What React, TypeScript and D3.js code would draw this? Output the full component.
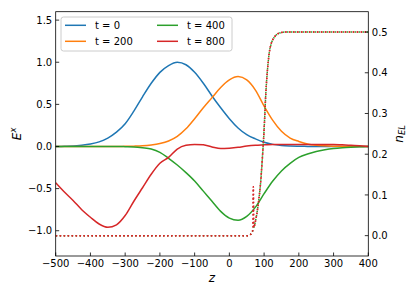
import React from 'react';
import * as d3 from 'd3';

const width = 415;
const height = 297;
const plot = { left: 55.7, right: 368.3, top: 11.7, bottom: 256 };

// z positions of the field samples
const zValues = [
  -500, -475, -450, -425, -400, -375, -350, -325, -300, -275,
  -250, -225, -200, -175, -150, -125, -100, -75, -50, -25,
  0, 25, 50, 75, 100, 125, 150, 175, 200, 225,
  250, 275, 300, 325, 350, 375, 400,
];

// E^x for each time
const fieldT0 = [
  0, 0.002, 0.005, 0.015, 0.03, 0.055, 0.10, 0.17, 0.27, 0.42,
  0.59, 0.75, 0.88, 0.96, 1.00, 0.97, 0.88, 0.75, 0.60, 0.46,
  0.33, 0.22, 0.14, 0.09, 0.05, 0.025, 0.012, 0.006, 0.003, 0.001,
  0, 0, 0, 0, 0, 0, 0,
];
const fieldT200 = [
  0, 0, 0, 0, 0, 0, 0, 0, 0.002, 0.004,
  0.008, 0.018, 0.035, 0.065, 0.12, 0.21, 0.33, 0.46, 0.58, 0.70,
  0.79, 0.83, 0.79, 0.67, 0.48, 0.31, 0.18, 0.10, 0.06, 0.03,
  0.015, 0.008, 0.004, 0.002, 0, 0, 0,
];
const fieldT400 = [
  0, 0, 0, 0, 0, 0, 0, 0, -0.002, -0.005,
  -0.015, -0.03, -0.07, -0.14, -0.22, -0.31, -0.41, -0.53, -0.65, -0.77,
  -0.85, -0.875, -0.83, -0.72, -0.56, -0.41, -0.29, -0.20, -0.13, -0.09,
  -0.06, -0.04, -0.025, -0.015, -0.008, -0.003, 0,
];
const fieldT800 = [
  -0.43, -0.54, -0.64, -0.75, -0.84, -0.92, -0.96, -0.93, -0.82, -0.65,
  -0.49, -0.33, -0.20, -0.13, -0.03, 0.015, 0.025, 0.02, -0.005, -0.025,
  -0.02, -0.01, 0.005, 0.015, 0.02, 0.025, 0.025, 0.025, 0.025, 0.025,
  0.025, 0.025, 0.025, 0.02, 0.015, 0.008, 0,
];

// electron density n_EL (right axis)
const densityZ = [-500, 55, 65, 75, 85, 90, 95, 100, 105, 110, 115, 120, 130, 140, 150, 160, 400];
const densityEarly = [0, 0, 0.008, 0.035, 0.09, 0.13, 0.19, 0.26, 0.35, 0.41, 0.45, 0.47, 0.488, 0.496, 0.499, 0.5, 0.5];
const densityZ800 = [-500, 55, 65, 68, 69, 70, 75, 85, 90, 95, 100, 105, 110, 115, 120, 130, 140, 150, 160, 400];
const densityT800 = [0, 0, 0.008, 0.016, 0.12, 0.02, 0.035, 0.09, 0.13, 0.19, 0.26, 0.35, 0.41, 0.45, 0.47, 0.488, 0.496, 0.499, 0.5, 0.5];

const seriesLabels = ['t = 0', 't = 200', 't = 400', 't = 800'];
const colors = ['#1f77b4', '#ff7f0e', '#2ca02c', '#d62728'];

const xTicks = [-500, -400, -300, -200, -100, 0, 100, 200, 300, 400];
const leftTicks = [-1.0, -0.5, 0.0, 0.5, 1.0, 1.5];
const rightTicks = [0.0, 0.1, 0.2, 0.3, 0.4, 0.5];

const font = '"DejaVu Sans", sans-serif';
const minus = (s: string) => s.replace('-', '\u2212');

export default function App() {
  const xScale = d3.scaleLinear().domain([-500, 400]).range([plot.left, plot.right]);
  const yLeft = d3.scaleLinear().domain([-1.3, 1.6]).range([plot.bottom, plot.top]);
  const yRight = d3.scaleLinear().domain([-0.05, 0.55]).range([plot.bottom, plot.top]);

  const fieldLine = d3.line<number>()
    .x((_, i) => xScale(zValues[i]))
    .y(d => yLeft(d))
    .curve(d3.curveMonotoneX);

  const densLine = (zs: number[]) => d3.line<number>()
    .x((_, i) => xScale(zs[i]))
    .y(d => yRight(d))
    .curve(d3.curveMonotoneX);

  const fields = [fieldT0, fieldT200, fieldT400, fieldT800];
  // t=0 and t=200 densities sit exactly under t=400, so only the visible ones are drawn
  const densities = [
    { z: densityZ, v: densityEarly, c: colors[2] },
    { z: densityZ800, v: densityT800, c: colors[3] },
    { z: densityZ800, v: densityT800, c: colors[3] },
  ];

  const fmt1 = d3.format('.1f');

  // legend placement
  const legend = { x: 61, y: 17, w: 171, h: 34 };
  const legendCols = [65, 157];
  const legendRows = [25.3, 41.3];

  return (
    <svg width={width} height={height} style={{ position: 'absolute', left: 0, top: 0 }} fontFamily={font}>
      <rect width={width} height={height} fill="#fff" />
      <defs>
        <clipPath id="plot-clip">
          <rect x={plot.left} y={plot.top} width={plot.right - plot.left} height={plot.bottom - plot.top} />
        </clipPath>
      </defs>

      {/* E field curves */}
      <g clipPath="url(#plot-clip)">
        {fields.map((f, i) => (
          <path key={i} d={fieldLine(f) || ''} fill="none" stroke={colors[i]} strokeWidth={1.5} />
        ))}
      </g>

      {/* legend */}
      <g>
        <rect x={legend.x} y={legend.y} width={legend.w} height={legend.h} rx={2.5}
          fill="#fff" fillOpacity={0.8} stroke="#cccccc" strokeWidth={1} />
        {seriesLabels.map((lab, i) => {
          const cx = legendCols[Math.floor(i / 2)];
          const cy = legendRows[i % 2];
          return (
            <g key={lab}>
              <line x1={cx} x2={cx + 21} y1={cy} y2={cy} stroke={colors[i]} strokeWidth={1.5} />
              <text x={cx + 30} y={cy + 3.6} fontSize={10}>{lab}</text>
            </g>
          );
        })}
      </g>

      {/* density curves (twin axis, drawn on top) */}
      <g clipPath="url(#plot-clip)">
        {densities.map((d, i) => (
          <path key={i} d={densLine(d.z)(d.v) || ''} fill="none" stroke={d.c}
            strokeWidth={1.5} strokeDasharray="1.5,2.475" />
        ))}
      </g>

      {/* spines */}
      <rect x={plot.left} y={plot.top} width={plot.right - plot.left} height={plot.bottom - plot.top}
        fill="none" stroke="#000" strokeWidth={0.8} />

      {/* bottom axis */}
      {xTicks.map(t => (
        <g key={'x' + t}>
          <line x1={xScale(t)} x2={xScale(t)} y1={plot.bottom} y2={plot.bottom - 3.5} stroke="#000" strokeWidth={0.8} />
          <text x={xScale(t)} y={plot.bottom + 11.3} fontSize={10} textAnchor="middle">{minus(String(t))}</text>
        </g>
      ))}

      {/* left axis */}
      {leftTicks.map(t => (
        <g key={'l' + t}>
          <line x1={plot.left} x2={plot.left + 3.5} y1={yLeft(t)} y2={yLeft(t)} stroke="#000" strokeWidth={0.8} />
          <text x={plot.left - 3.5} y={yLeft(t) + 3.6} fontSize={10} textAnchor="end">{minus(fmt1(t))}</text>
        </g>
      ))}

      {/* right axis */}
      {rightTicks.map(t => (
        <g key={'r' + t}>
          <line x1={plot.right} x2={plot.right - 3.5} y1={yRight(t)} y2={yRight(t)} stroke="#000" strokeWidth={0.8} />
          <text x={plot.right + 3.5} y={yRight(t) + 3.6} fontSize={10}>{fmt1(t)}</text>
        </g>
      ))}

      {/* axis labels */}
      <text transform={`translate(20.5, ${(plot.top + plot.bottom) / 2}) rotate(-90)`} textAnchor="middle"
        fontSize={12} fontStyle="italic">
        E<tspan fontSize={8.5} dy={-5}>x</tspan>
      </text>
      <text x={(plot.left + plot.right) / 2} y={282} textAnchor="middle" fontSize={12} fontStyle="italic">z</text>
      <text transform={`translate(402.5, ${(plot.top + plot.bottom) / 2}) rotate(-90)`} textAnchor="middle"
        fontSize={12} fontStyle="italic">
        n<tspan fontSize={8.5} dy={2.5}>EL</tspan>
      </text>
    </svg>
  );
}
